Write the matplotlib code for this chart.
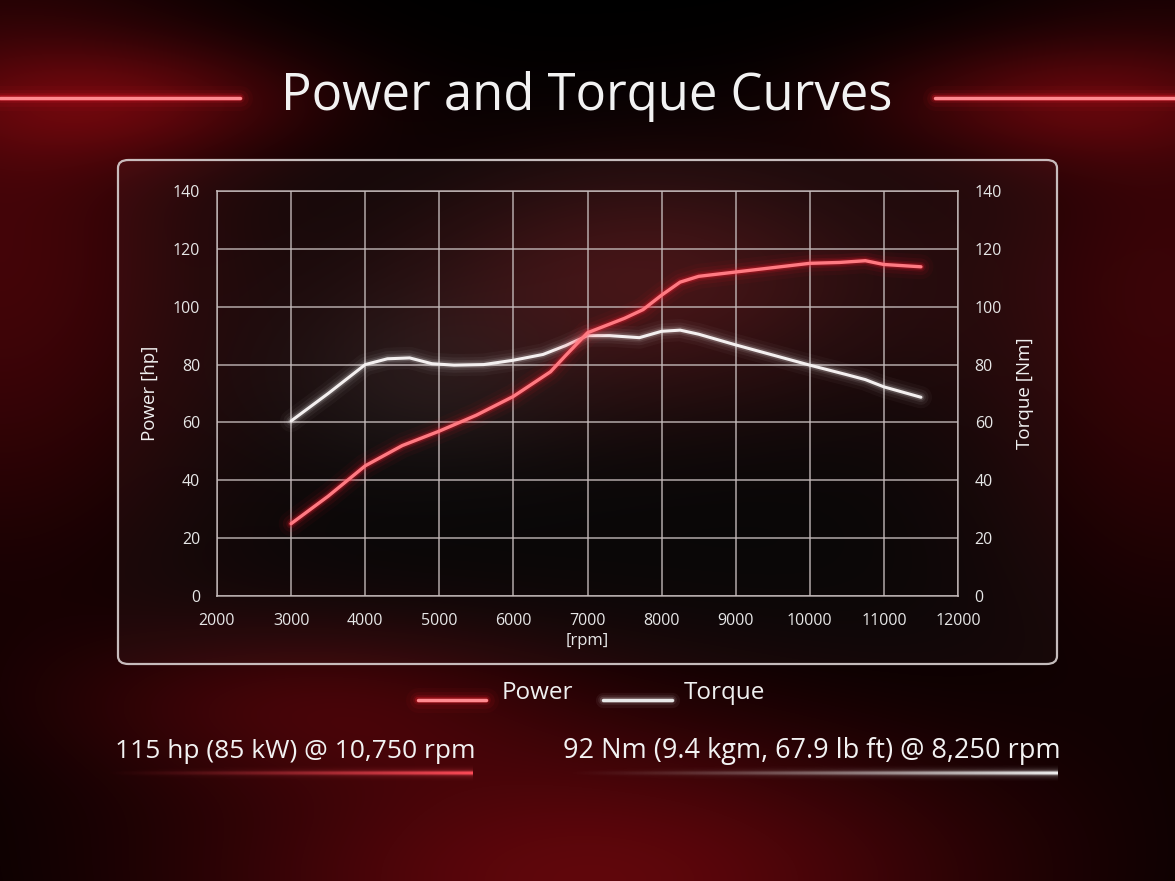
import numpy as np
import matplotlib.pyplot as plt
from matplotlib.patches import FancyBboxPatch

plt.rcParams['font.family'] = ['Open Sans', 'DejaVu Sans']

# data
power_rpm = [3000, 3500, 4000, 4500, 5000, 5500, 6000, 6500, 6700, 7000, 7500,
             7750, 8000, 8250, 8500, 9000, 9500, 10000, 10400, 10750, 11000, 11500]
power_hp = [25, 34.5, 45, 52, 57, 62.5, 69, 77.5, 83, 91, 96,
            99, 104, 108.5, 110.5, 112, 113.5, 115, 115.3, 115.9, 114.6, 113.8]

torque_rpm = [3000, 3500, 4000, 4300, 4600, 4900, 5200, 5600, 6000, 6400, 6700,
              7000, 7300, 7700, 8000, 8250, 8500, 9000, 9500, 10000, 10500,
              10750, 11000, 11500]
torque_nm = [60.5, 70, 80, 82, 82.3, 80.3, 79.8, 80, 81.5, 83.5, 86.5,
             90, 90, 89.3, 91.5, 91.9, 90.5, 86.8, 83.3, 79.8, 76.5,
             74.8, 72.3, 68.7]

y_ticks = [0, 20, 40, 60, 80, 100, 120, 140]
x_ticks = [2000, 3000, 4000, 5000, 6000, 7000, 8000, 9000, 10000, 11000, 12000]

title = 'Power and Torque Curves'
power_note = '115 hp (85 kW) @ 10,750 rpm'
torque_note = '92 Nm (9.4 kgm, 67.9 lb ft) @ 8,250 rpm'

W, H = 1175, 881
fig = plt.figure(figsize=(W / 100, H / 100), dpi=100)
fig.patch.set_facecolor('black')

# background glow
bg = fig.add_axes([0, 0, 1, 1], zorder=0)
yy, xx = np.mgrid[0:H, 0:W]
img = np.zeros((H, W, 3))


def blob(cx, cy, sx, sy, col, amp):
    g = amp * np.exp(-(((xx - cx) / sx) ** 2 + ((yy - cy) / sy) ** 2))
    for i in range(3):
        img[..., i] += g * col[i]


red = (0.75, 0.05, 0.09)
blob(590, 880, 420, 170, red, 0.5)
blob(0, 250, 220, 320, red, 0.35)
blob(1175, 300, 200, 320, red, 0.3)
blob(130, 100, 200, 60, red, 0.35)
blob(1060, 100, 200, 60, red, 0.35)
blob(650, 280, 260, 130, (0.55, 0.12, 0.14), 0.45)
blob(420, 380, 150, 90, (0.45, 0.4, 0.4), 0.15)
blob(300, 700, 250, 80, red, 0.25)
img = np.clip(img, 0, 1)
bg.imshow(img, extent=[0, W, H, 0], aspect='auto')
bg.set_xlim(0, W)
bg.set_ylim(H, 0)
bg.axis('off')


def glow(ax, x, y, glow_col, core_col, core_lw=2.0, widths=None):
    if widths is None:
        widths = [(18, 0.04), (12, 0.07), (7, 0.12), (4.5, 0.25)]
    for lw, a in widths:
        ax.plot(x, y, color=glow_col, lw=lw, alpha=a, solid_capstyle='round',
                solid_joinstyle='round')
    ax.plot(x, y, color=core_col, lw=core_lw, solid_capstyle='round',
            solid_joinstyle='round')


# title lines
glow(bg, [0, 240], [98, 98], '#ff2030', '#ff8a90', 2.5)
glow(bg, [935, 1175], [98, 98], '#ff2030', '#ff8a90', 2.5)
bg.text(587, 97, title, color='#f2f2f2', fontsize=36.5, ha='center', va='center')

# panel
panel = FancyBboxPatch((118 / W, 1 - 664 / H), 939 / W, 504 / H,
                       boxstyle='round,pad=0,rounding_size=0.009',
                       transform=fig.transFigure, facecolor=(1, 1, 1, 0.03),
                       edgecolor=(0.85, 0.82, 0.82, 0.9), linewidth=1.6,
                       zorder=1)
fig.patches.append(panel)

# chart
ax = fig.add_axes([217 / W, 1 - 596 / H, 741 / W, 405 / H], zorder=2)
ax.set_facecolor('none')
ax.set_xlim(2000, 12000)
ax.set_ylim(0, 140)
ax.set_xticks(x_ticks)
ax.set_yticks(y_ticks)
ax.grid(True, color=(0.78, 0.74, 0.74), lw=1.3, alpha=0.75)
for s in ax.spines.values():
    s.set_color((0.78, 0.74, 0.74))
    s.set_alpha(0.75)
    s.set_linewidth(1.3)
ax.tick_params(length=0, colors='#e6e6e6', labelsize=11.5, pad=12)
ax.set_ylabel('Power [hp]', color='#f0f0f0', fontsize=13.5, labelpad=10)
ax.set_xlabel('[rpm]', color='#e6e6e6', fontsize=12, labelpad=3)

ax2 = ax.twinx()
ax2.set_ylim(0, 140)
ax2.set_yticks(y_ticks)
ax2.tick_params(length=0, colors='#e6e6e6', labelsize=11.5, pad=12)
ax2.set_ylabel('Torque [Nm]', color='#f0f0f0', fontsize=13.5, labelpad=10)
for s in ax2.spines.values():
    s.set_visible(False)

glow(ax, torque_rpm, torque_nm, '#ffffff', '#f4f0f0', 2.2,
     [(16, 0.03), (11, 0.05), (7, 0.08), (4.5, 0.15)])
glow(ax, power_rpm, power_hp, '#ff1a2e', '#ff7a82', 2.4)

# legend
glow(bg, [418, 486], [700, 700], '#ff2030', '#ff8a90', 2.5)
bg.text(502, 693, 'Power', color='#f0f0f0', fontsize=17.5, va='center')
glow(bg, [603, 672], [700, 700], '#ffffff', '#e8e8e8', 2.5,
     [(11, 0.05), (7, 0.08), (4.5, 0.15)])
bg.text(684, 693, 'Torque', color='#f0f0f0', fontsize=17.5, va='center')

# notes with fading underlines
bg.text(115, 751, power_note, color='#f2f2f2', fontsize=19, va='center')
bg.text(563, 751, torque_note, color='#f2f2f2', fontsize=19.5, va='center')


def fade_line(x0, x1, y, col, half=8):
    n = 300
    fx = np.linspace(0, 1, n) ** 1.3
    fy = np.linspace(-half, half, 2 * half * 4 + 1)
    core = np.exp(-(fy / 1.6) ** 2)
    halo = 0.3 * np.exp(-(fy / 4.5) ** 2)
    prof = np.clip(core + halo, 0, 1)
    rgba = np.zeros((len(fy), n, 4))
    rgba[..., 0] = col[0]
    rgba[..., 1] = col[1]
    rgba[..., 2] = col[2]
    rgba[..., 3] = prof[:, None] * fx[None, :]
    bg.imshow(rgba, extent=[x0, x1, y + half, y - half], aspect='auto',
              interpolation='bilinear')


fade_line(100, 473, 773, (1.0, 0.3, 0.35))
fade_line(560, 1058, 773, (0.95, 0.95, 0.95))
bg.set_xlim(0, W)
bg.set_ylim(H, 0)

fig.savefig('out.png', dpi=100, facecolor='black')
